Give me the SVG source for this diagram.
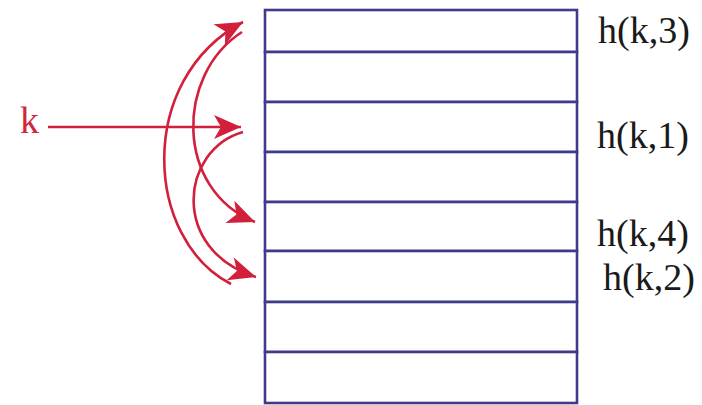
<svg xmlns="http://www.w3.org/2000/svg" width="702" height="405" viewBox="0 0 702 405">
<style>
.row{fill:#ffffff;stroke:#3f3a8c;stroke-width:2.6}
.lbl{font-family:"Liberation Serif","Times New Roman",serif;font-size:38px;fill:#1a1a1a}
.key{font-family:"Liberation Serif","Times New Roman",serif;font-size:38px;fill:#d0283a}
.arc{fill:none;stroke:#d21f3c;stroke-width:2.6;marker-end:url(#ah)}
</style>
<defs>
<marker id="ah" markerUnits="userSpaceOnUse" markerWidth="30" markerHeight="30" viewBox="-28 -13 30 26" refX="0" refY="0" orient="auto">
<path d="M0,0 L-27,-12 L-20,0 L-27,12 Z" fill="#d21f3c"/>
</marker>
</defs>
<g id="table">
<rect class="row" x="265" y="10" width="312" height="42"/>
<rect class="row" x="265" y="52" width="312" height="50"/>
<rect class="row" x="265" y="102" width="312" height="50"/>
<rect class="row" x="265" y="152" width="312" height="50"/>
<rect class="row" x="265" y="202" width="312" height="49"/>
<rect class="row" x="265" y="251" width="312" height="51"/>
<rect class="row" x="265" y="302" width="312" height="50"/>
<rect class="row" x="265" y="352" width="312" height="51"/>
</g>
<g id="labels">
<text class="lbl" x="598" y="43">h(k,3)</text>
<text class="lbl" x="597" y="148">h(k,1)</text>
<text class="lbl" x="597" y="246">h(k,4)</text>
<text class="lbl" x="603" y="290">h(k,2)</text>
</g>
<g id="key">
<text class="key" x="20" y="133">k</text>
</g>
<g id="connectors">
<path class="arc" d="M48,127 L241,127"/>
<path class="arc" d="M243,132 C180,150 170,250 256,277"/>
<path class="arc" d="M231,284 C145,240 135,80 243,22"/>
<path class="arc" d="M242,32 C175,75 175,190 255,222"/>
</g>
</svg>
